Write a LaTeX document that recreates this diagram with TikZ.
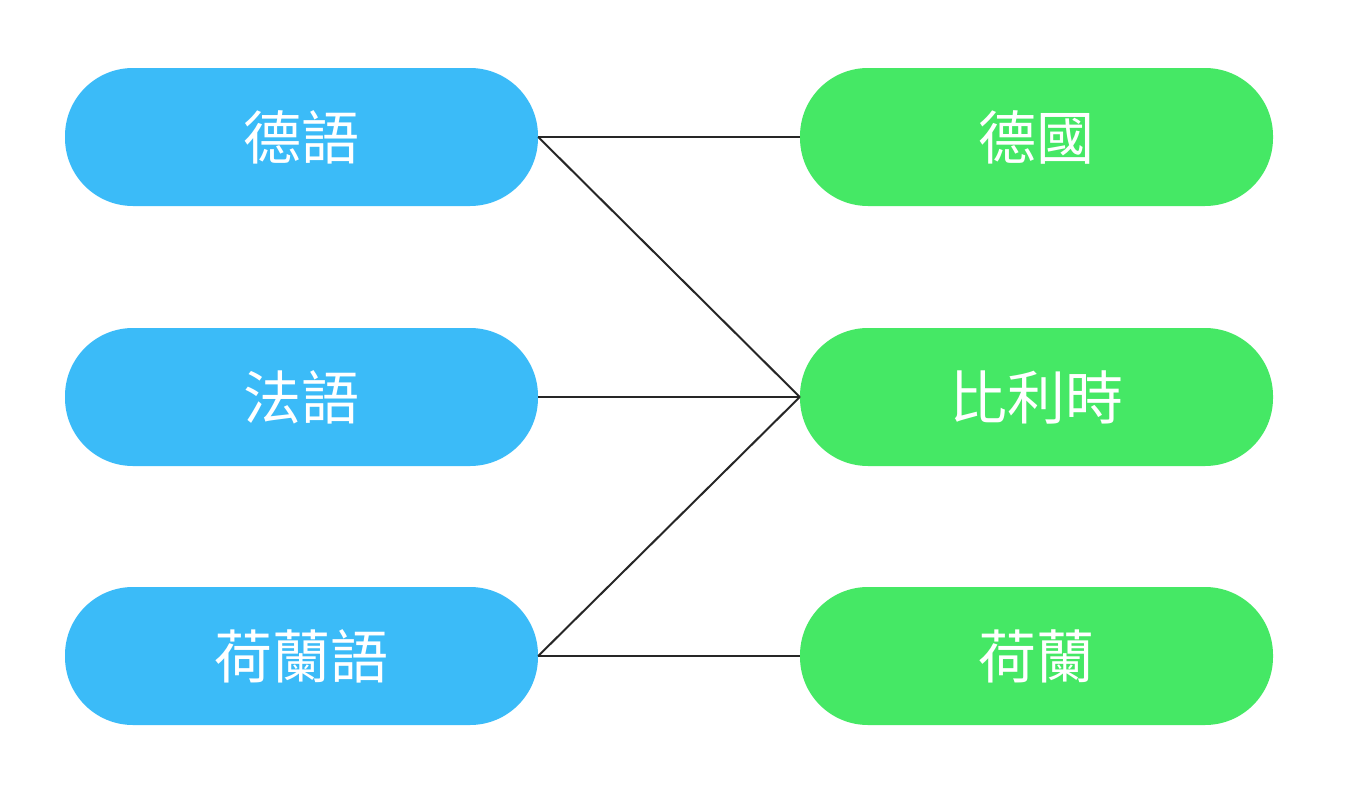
\documentclass[tikz,border=0pt]{standalone}
\usepackage{fontspec}
\newfontfamily\cjk{Noto Sans CJK TC}
\definecolor{pblue}{HTML}{3BBBF8}
\definecolor{pgreen}{HTML}{45E865}
\begin{document}
\begin{tikzpicture}[x=1pt,y=-1pt,
  pill/.style={rectangle,rounded corners=68pt,minimum width=473pt,minimum height=138pt,inner sep=0pt,text=white,font=\cjk\fontsize{58}{70}\selectfont},
  lang/.style={pill,fill=pblue},
  ctry/.style={pill,fill=pgreen},
  link/.style={line width=2pt,black!85}]
\useasboundingbox[fill=white] (0,0) rectangle (1364,784);
\node[lang] (de) at (301.5,137) {德語};
\node[lang] (fr) at (301.5,397) {法語};
\node[lang] (nl) at (301.5,656) {荷蘭語};
\node[ctry] (ge) at (1036.5,137) {德國};
\node[ctry] (be) at (1036.5,397) {比利時};
\node[ctry] (ho) at (1036.5,656) {荷蘭};
\draw[link] (de.east) -- (ge.west);
\draw[link] (de.east) -- (be.west);
\draw[link] (fr.east) -- (be.west);
\draw[link] (nl.east) -- (be.west);
\draw[link] (nl.east) -- (ho.west);
\end{tikzpicture}
\end{document}
